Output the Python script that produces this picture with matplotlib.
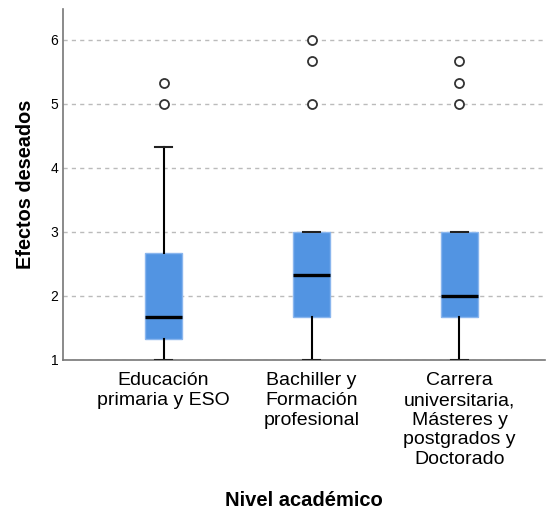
import matplotlib.pyplot as plt

plt.rcParams['font.family'] = ['Liberation Sans', 'DejaVu Sans']

niveles = ['Educación\nprimaria y ESO',
           'Bachiller y\nFormación\nprofesional',
           'Carrera\nuniversitaria,\nMásteres y\npostgrados y\nDoctorado']
q1 = [1.33, 1.67, 1.67]
medianas = [1.67, 2.33, 2.00]
q3 = [2.67, 3.00, 3.00]
bigote_inf = [1.00, 1.00, 1.00]
bigote_sup = [4.33, 3.00, 3.00]
atipicos = [[5.00, 5.33], [5.00, 5.67, 6.00], [5.00, 5.33, 5.67]]

stats = []
for i in range(len(niveles)):
    stats.append({'med': medianas[i], 'q1': q1[i], 'q3': q3[i],
                  'whislo': bigote_inf[i], 'whishi': bigote_sup[i],
                  'fliers': atipicos[i]})

fig = plt.figure(figsize=(5.48, 5.15), dpi=100)
ax = fig.add_axes([0.115, 0.301, 0.88, 0.6815])

ax.bxp(stats, positions=range(len(niveles)), widths=0.25, patch_artist=True,
       boxprops=dict(facecolor='#5294e2', edgecolor='#8ab6ee', linewidth=1),
       medianprops=dict(color='black', linewidth=2.4),
       whiskerprops=dict(color='black', linewidth=1.5),
       capprops=dict(color='#222222', linewidth=1.5),
       flierprops=dict(marker='o', markerfacecolor='white', markeredgecolor='#333333',
                       markersize=6.5, markeredgewidth=1.3),
       capwidths=0.12, zorder=3)

ax.set_xlim(-0.68, 2.58)
ax.set_ylim(1, 6.48)
ax.set_yticks([1, 2, 3, 4, 5, 6])
ax.set_xticks(range(len(niveles)))
ax.set_xticklabels(niveles, fontsize=14, linespacing=1.2)
ax.tick_params(axis='y', length=0, labelsize=10, pad=3.5)
ax.tick_params(axis='x', length=0, pad=9)
ax.yaxis.grid(True, linestyle=(0, (3, 3)), color='#bbbbbb', linewidth=1)
ax.set_axisbelow(True)

for s in ['top', 'right']:
    ax.spines[s].set_visible(False)
for s in ['left', 'bottom']:
    ax.spines[s].set_color('#777777')
    ax.spines[s].set_linewidth(1.2)

ax.set_ylabel('Efectos deseados', fontsize=14.3, fontweight='bold', labelpad=11)
ax.set_xlabel('Nivel académico', fontsize=14.5, fontweight='bold', labelpad=17)

plt.savefig('out.png', dpi=100)
